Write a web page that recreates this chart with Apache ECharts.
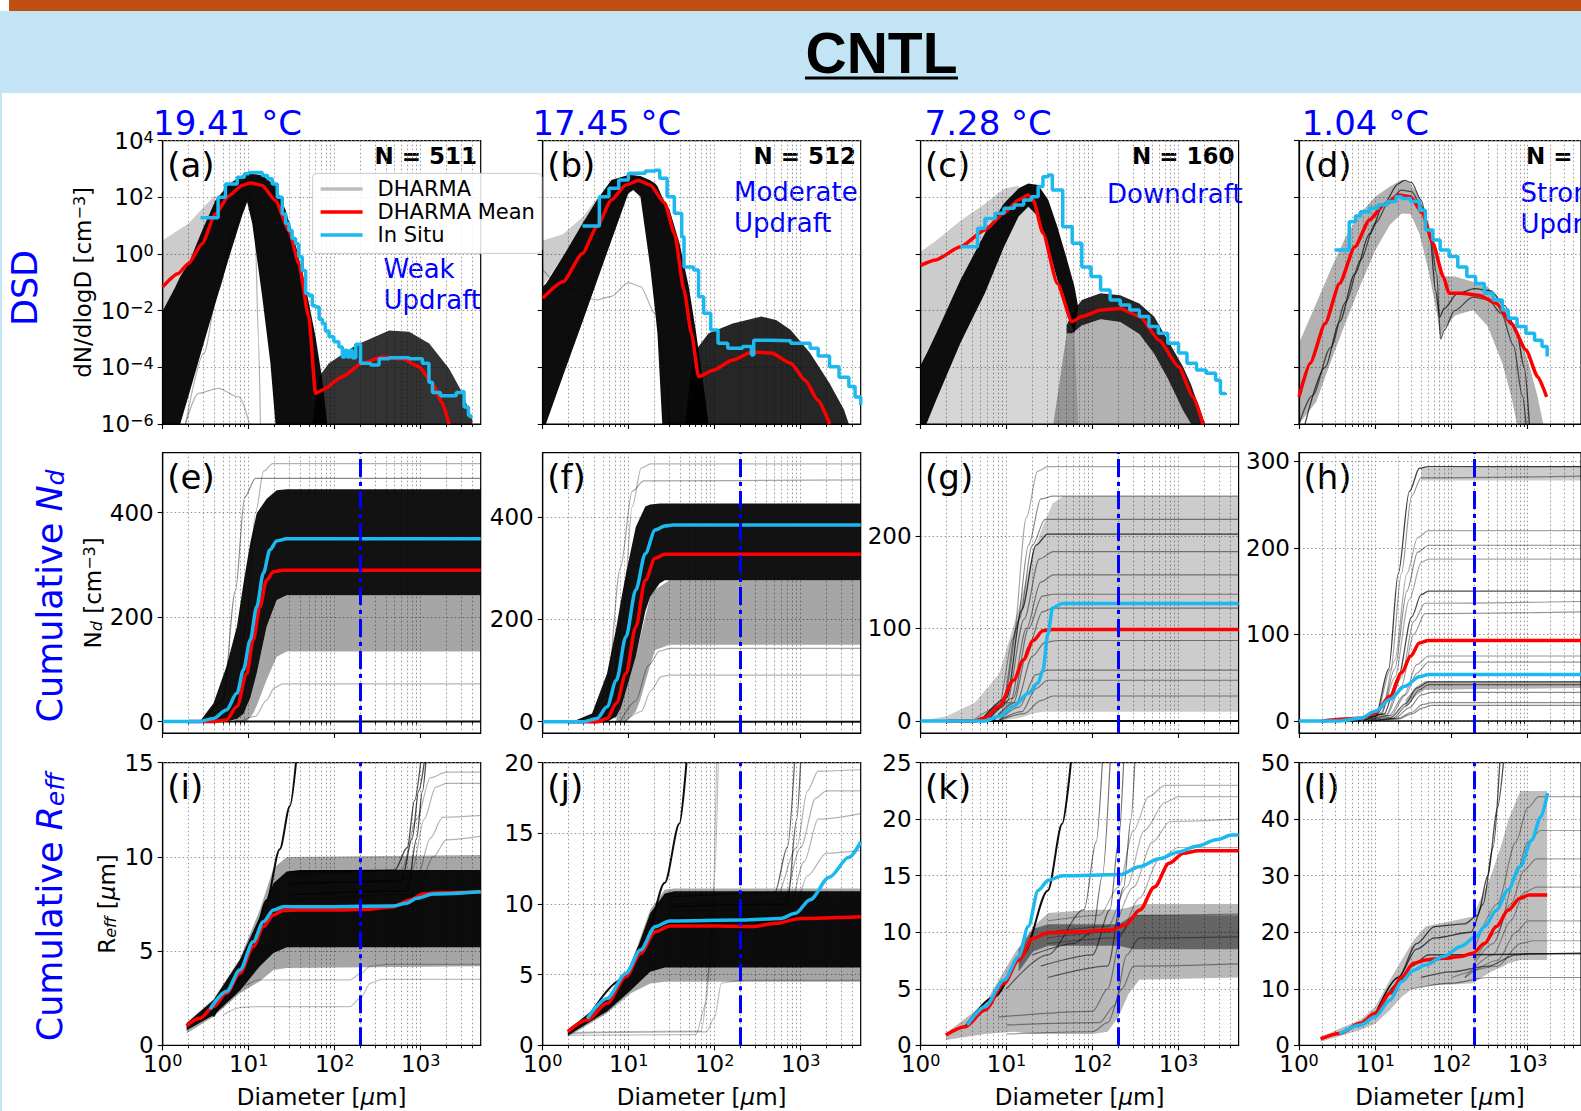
<!DOCTYPE html>
<html>
<head>
<meta charset="utf-8">
<script src="https://cdn.jsdelivr.net/npm/echarts@6/dist/echarts.min.js"></script>
<style>
html, body { margin: 0; padding: 0; background: #fff; }
#wrap { position: relative; width: 1581px; height: 1111px; overflow: hidden; background: #fff; }
#topbar { position: absolute; left: 9px; top: 0; width: 1572px; height: 11px; background: #c14f14; }
#band { position: absolute; left: 0; top: 11px; width: 1581px; height: 82px; background: #c2e4f4; }
#edge { position: absolute; left: 0; top: 93px; width: 2px; height: 1018px; background: #c2e4f4; }
#chart { position: absolute; left: 0; top: 0; width: 1581px; height: 1111px; }
</style>
</head>
<body>
<div id="wrap"><div id="topbar"></div><div id="band"></div><div id="edge"></div><div id="chart"></div></div>
<script>
// ---------------- DSD (dN/dlogD, cm^-3) ----------------
const dsdA_mean = [[1,0.069],[1.5,0.2],[2,0.46],[2.87,2.3],[4.1,26],[5.9,115],[8.4,263],[10.5,324],[14.4,263],[20.5,78],[29.4,6.8],[38.3,0.46],[50,6e-3],[60,1.2e-5],[72,1.6e-5],[123,4.7e-5],[210,1.4e-4],[359,2.3e-4],[616,2e-4],[960,1.05e-4],[1370,2.7e-5],[1790,5.4e-6],[2140,1e-6]];
const dsdA_situ = [[2.75,19],[4.41,100],[5.37,295],[7.35,510],[8.9,680],[10,760],[14.4,590],[16.6,450],[18.8,295],[21.5,100],[24.6,26],[27,12],[29.4,6.8],[32,3.5],[35.1,2.3],[38.3,0.8],[42,0.26],[46,0.04],[50,0.035],[55,0.015],[60,0.0135],[66,5e-3],[72,3.5e-3],[78,1.9e-3],[86,1.2e-3],[98,8e-4],[112,5.2e-4],[123,2.3e-4],[132,4e-4],[140,2.3e-4],[150,4e-4],[160,2.2e-4],[176,6.5e-4],[200,1.4e-4],[263,1.2e-4],[329,2e-4],[430,2.2e-4],[735,2e-4],[1050,1.4e-4],[1250,3e-5],[1374,1.3e-5],[1700,1e-5],[2600,1.3e-5],[3070,1.4e-5],[3200,4e-6],[3600,2e-6],[3840,1.6e-6]];
const dsdA_core = [[1,1e-6,1e-2],[1.4,1e-6,0.069],[1.6,1e-6,0.16],[2,1e-5,0.46],[2.87,4.4e-4,6.8],[4.1,0.018,78],[5.9,0.74,295],[8.4,23,590],[9.6,68,650],[11,12,676],[14.4,0.03,600],[17.9,1.4e-4,355],[20.5,1e-6,263],[26.9,1e-6,35],[35,1e-6,2.3],[46,1e-6,0.069],[60,1e-6,1.2e-3],[72,1e-6,3.5e-5],[82,1e-6,1e-6]];
const dsdA_upper = [[1,1e-2,3],[1.4,0.069,6],[2,0.46,12],[2.87,6.8,40],[4.1,78,120]];
const dsdA_mode2 = [[55,1e-6,1e-6],[65.6,1e-6,4.7e-5],[86,1e-6,1.4e-4],[176,1e-6,6e-4],[430,1e-6,2e-3],[735,1e-6,1.8e-3],[1260,1e-6,6.9e-4],[2150,1e-6,9e-5],[3090,1e-6,1.2e-5],[4000,1e-6,1.4e-6]];
const dsdA_g1 = [[1.84,1e-6],[2.6,1.2e-5],[4.4,1.8e-5],[7.7,9e-6],[10.2,1e-6]];
const dsdA_g2 = [[1.85,1e-6],[3,3e-4],[4.4,0.05],[6.5,5],[9.2,80],[10.5,120],[11.9,5],[13,1e-3],[13.7,1e-6]];

const dsdB_mean = [[1,0.0275],[1.72,0.105],[2.9,1.05],[4.27,9.1],[6.3,81],[9.3,275],[12.9,390],[17.8,275],[26.3,62],[34,5.4],[44,0.054],[53.7,1.6e-3],[65,4.7e-5],[96,7.9e-5],[162,1.8e-4],[271,3.5e-4],[456,3.2e-4],[767,1.4e-4],[1130,3.5e-5],[1580,7e-6],[2180,1e-6]];
const dsdB_situ = [[2.9,9.8],[4.56,105],[5.9,209],[7.67,407],[9.9,708],[15.6,851],[20.3,912],[23,468],[28,105],[34,27.5],[41.4,4.1],[44,0.35],[57,0.275],[65,0.031],[74.6,8.1e-3],[90,2.1e-3],[109.5,7.1e-4],[142,4.7e-4],[211,5.4e-4],[268,2.75e-4],[285,9.1e-4],[349,9.1e-4],[456,8.7e-4],[767,7.1e-4],[1290,4.7e-4],[1600,2.5e-4],[2170,1.05e-4],[2800,4.5e-5],[3640,2.1e-5],[4300,9e-6],[5000,4.7e-6]];
const dsdB_core = [[1,1e-6,0.071],[1.09,1e-6,0.09],[1.72,4.9e-5,0.81],[2.9,4e-3,12],[4.27,0.11,81],[6.3,3,407],[9.9,138,617],[11.3,182,600],[13.7,105,562],[17.8,0.35,400],[20.3,0.01,309],[21.6,1.6e-3,250],[24.6,1e-6,100],[30,1e-6,35],[39,1e-6,2.4],[50,1e-6,0.071],[61,1e-6,1.6e-3],[74.6,1e-6,2.1e-5],[85,1e-6,1e-6]];
const dsdB_upper = [[1,0.071,3],[1.72,0.81,5],[2.9,12,20],[4.27,81,90]];
const dsdB_mode2 = [[45,1e-6,1e-6],[57,1e-6,3.2e-4],[85,1e-6,1.6e-3],[162,1e-6,3.5e-3],[349,1e-6,6.2e-3],[520,1e-6,4.7e-3],[767,1e-6,2.1e-3],[1290,1e-6,3.2e-4],[2170,1e-6,2.75e-5],[3200,1e-6,3.2e-6],[3640,1e-6,1e-6]];
const dsdB_g1 = [[1,0.28],[1.72,0.071],[4.27,0.024],[6.3,0.032],[9.9,0.098],[13.7,0.071],[20.3,8e-3],[26.3,1e-4],[30,1e-6]];

const dsdC_mean = [[1,0.4],[1.5,0.62],[2.9,1.8],[5.6,7.1],[9.3,27.5],[13.8,81],[17.9,120],[20.4,81],[26.5,5.4],[39,0.091],[57.6,4.1e-3],[75,6.2e-3],[125,0.0105],[210,0.012],[355,6.2e-3],[596,9.1e-4],[1000,1.05e-4],[1480,9.1e-6],[1920,1e-6]];
const dsdC_situ = [[2.9,1.8],[4.6,8.1],[5.6,18],[7.4,27.5],[9.35,41],[12.3,54],[15.8,81],[19.5,105],[23.3,240],[26.5,537],[30.6,617],[34.1,182],[45,9.1],[58,2.4],[75,0.35],[96,0.16],[124,0.054],[160,0.024],[210,0.016],[271,0.0105],[350,6.2e-3],[453,2.75e-3],[583,1.6e-3],[750,7.1e-4],[1000,3.2e-4],[1255,1.4e-4],[1620,8.1e-5],[2100,6.2e-5],[2700,3.5e-5],[3070,1.2e-5],[3500,1.05e-5]];
const dsdC_core = [[1,1e-6,1.2e-4],[1.17,1e-6,3e-4],[1.52,7e-6,1.6e-3],[2.9,7.1e-4,0.12],[5.6,0.041,5.4],[9.35,1.8,62],[13.8,21,209],[17.9,47,309],[23.3,21,275],[30.6,1.8,81],[39,0.12,9.1],[50.6,8.1e-3,0.62],[61.6,1.6e-3,0.071],[68,0.014,0.014]];
const dsdC_upper = [[1,1.2e-4,1.2],[1.52,1.6e-3,3],[2.9,0.12,15],[5.6,5.4,60],[9.35,62,200],[13.8,209,260]];
const dsdC_inner = [[1.17,1e-6,1e-6],[1.52,1e-6,7e-6],[2.9,1e-6,7.1e-4],[5.6,1e-6,0.041],[9.35,1e-6,1.8],[13.8,1e-6,21],[17.9,1e-6,47],[23.3,1e-6,21],[30.6,1e-6,1.8],[39,1e-6,0.12],[50.6,1e-6,8.1e-3],[61.6,1e-6,1.6e-3],[68,1e-6,1e-6]];
const dsdC_mode2dark = [[50,1.6e-3,3e-3],[57.6,1.6e-3,8.1e-3],[75,3e-3,0.024],[124,5e-3,0.041],[210,4e-3,0.035],[350,1.5e-3,0.018],[520,3e-4,6.2e-3],[750,4e-5,9.1e-4],[1130,3e-6,1.05e-4],[1400,1e-6,2.5e-5],[1620,1e-6,7e-6],[2040,1e-6,1e-6]];
const dsdC_mode2light = [[35,1e-6,1e-6],[50,1e-6,1.6e-3],[75,1e-6,3e-3],[124,1e-6,5e-3],[210,1e-6,4e-3],[350,1e-6,1.5e-3],[520,1e-6,3e-4],[750,1e-6,4e-5],[1130,1e-6,3e-6],[1400,1e-6,1e-6]];

const dsdD_mean = [[1,9.1e-6],[1.4,1.4e-4],[2.2,3.5e-3],[3.4,0.091],[5.4,1.8],[8.4,16],[13,54],[20.4,120],[29,105],[41.7,27.5],[57,2.4],[78,0.16],[93,0.041],[133,0.041],[228,0.035],[390,0.018],[610,3.5e-3],[950,4.1e-4],[1350,4.7e-5],[1770,9.1e-6]];
const dsdD_situ = [[2.92,1.4],[4.56,13.8],[5.5,22],[6.4,31],[8.4,41],[10.9,54],[14.3,71],[18.7,105],[22.3,91],[29,71],[38,35],[45.5,7.1],[57,3.1],[71,1.4],[93,0.81],[121,0.35],[159,0.16],[207,0.091],[270,0.041],[352,0.024],[465,0.0105],[556,5.4e-3],[724,2.75e-3],[946,1.6e-3],[1230,9.1e-4],[1540,5.4e-4],[1800,2.4e-4]];
const dsdD_band = [[1,1e-6,7.1e-4],[1.68,6e-6,0.018],[2.6,1.5e-4,0.28],[4.1,3.9e-3,4.1],[6.4,0.08,27.5],[10,1.35,105],[15.6,10.7,240],[22.3,27,407],[29,25.7,309],[38,5.2,105],[50,0.26,12],[65,6.8e-3,0.81],[71,1.2e-3,0.35],[78,2.1e-3,0.16],[111,6.8e-3,0.16],[191,0.0105,0.105],[297,2.9e-3,0.071],[465,1.4e-4,0.018],[610,9.1e-6,4.9e-3],[724,1e-6,2.1e-3],[1030,1e-6,1.4e-4],[1350,1e-6,9.1e-6],[1600,1e-6,1e-6]];
const dsdD_g1 = [[1.2,1e-6],[2.2,1e-4],[3.4,4e-3],[5.4,0.2],[8.4,5],[13,60],[20,300],[24,400],[30,330],[40,80],[52,4],[62,0.05],[70,6e-3],[80,0.012],[120,0.04],[200,0.06],[330,0.05],[500,0.015],[720,1.5e-3],[900,1e-4],[1050,1e-6]];
const dsdD_g2 = [[1,1e-6],[1.5,1e-5],[2.6,5e-4],[4.1,0.02],[6.4,0.6],[10,12],[15.6,80],[22,180],[30,160],[40,50],[52,5],[64,0.2],[72,1e-3],[80,2e-3],[110,0.01],[190,0.03],[300,0.025],[450,8e-3],[650,6e-4],[850,1e-5],[950,1e-6]];

// ---------------- Cumulative Nd (cm^-3) ----------------
const cumE_mean = [[2,0],[3.9,0],[5.5,3],[7.3,29],[9.5,92],[11.3,156],[13.5,220],[16.2,271],[19.4,287],[25,290],[5000,290]];
const cumE_situ = [[1,0],[2.7,0],[3.9,6],[5.5,22],[7.3,54],[8.7,99],[10.4,156],[12.4,220],[14.8,284],[17.7,329],[21.2,346],[27.7,350],[5000,350]];
const cumE_core = [[2.7,0,0],[3.9,0,35],[5.5,0,105],[7.3,5,182],[8.7,15,265],[10.4,45,341],[12.4,92,399],[16.2,182,427],[21.2,233,443],[27.7,242,445],[5000,242,445]];
const cumE_light = [[6.6,0,0],[7.9,0,10],[9.5,0,29],[11.3,16,70],[12.4,30,92],[16.2,80,182],[21.2,124,233],[27.7,134,242],[5000,134,242]];
const cumE_g1 = [[4,0],[7,30],[9.5,200],[12,400],[15,480],[19,494],[5000,494]];
const cumE_g2 = [[3,0],[5,40],[7,250],[9,430],[12,466],[5000,466]];
const cumE_g3 = [[8,0],[12,10],[16,40],[20,65],[25,72],[5000,72]];
const cumE_zero = [[1,0],[5000,0]];

const cumF_mean = [[2,0],[4.3,0],[5.6,6.5],[7.2,36],[9.3,94],[12.1,185],[15.6,276],[20.3,319],[26.3,327],[5000,327]];
const cumF_situ = [[1,0],[2.9,0],[4.3,6.5],[5.6,29],[7.2,81],[9.3,166],[12.1,257],[15.6,328],[20.3,374],[26.3,382],[33,384],[5000,384]];
const cumF_core = [[2.2,0,0],[3.75,0,16],[5.6,0,94],[7.2,10,185],[8.2,29,240],[9.3,60,289],[12.1,127,380],[15.6,215,420],[17.8,244,424],[23,270,426],[26.3,276,426],[5000,276,426]];
const cumF_light = [[7.2,0,10],[8.2,0,29],[9.3,0,60],[12.1,20,127],[13.6,42,165],[17.8,110,244],[20.3,140,258],[30,150,276],[5000,150,276]];
const cumF_g1 = [[4,0],[6,30],[8.5,200],[11,420],[14,495],[18,503],[5000,503]];
const cumF_g2 = [[3.5,0],[5.5,50],[8,300],[11,450],[15,470],[5000,472]];
const cumF_g3 = [[9,0],[14,20],[18,60],[24,88],[30,91],[5000,91]];
const cumF_g4 = [[8,0],[12,40],[17,110],[23,138],[30,143],[5000,143]];
const cumF_zero = [[1,0],[5000,0]];

const cumG_mean = [[2,0],[4.3,0],[5.6,3.5],[8.2,16],[12.1,44],[15.7,66],[20.4,87],[26.5,97.5],[34.3,99],[5000,99]];
const cumG_situ = [[1,0],[5.6,0],[8.2,5],[12.1,16],[17.9,30],[23.2,41],[26.5,55],[30.2,94],[34.3,122],[44.6,127],[5000,127]];
const cumG_band = [[1,0,0],[2,0,5],[4.3,0,20],[8.2,0,51],[13.8,3,122],[20.4,8,183],[26.5,10,211],[34.3,10,235],[45,10,243],[5000,10,243]];
const cumG_l1 = [[4,0],[8,15],[12,90],[17,220],[23,270],[30,275],[5000,275]];
const cumG_l2 = [[5,0],[9,20],[13,100],[18,190],[25,240],[35,243],[5000,243]];
const cumG_l3 = [[5,0],[9,15],[14,110],[20,190],[28,218],[5000,218]];
const cumG_l4 = [[5,0],[10,25],[15,120],[22,190],[30,202],[5000,202]];
const cumG_l5 = [[6,0],[10,20],[16,110],[24,175],[35,183],[5000,183]];
const cumG_l6 = [[6,0],[11,20],[17,100],[25,150],[35,158],[5000,158]];
const cumG_l7 = [[6,0],[12,25],[18,100],[26,135],[35,137],[5000,137]];
const cumG_l8 = [[7,0],[12,20],[18,80],[26,118],[35,122],[5000,122]];
const cumG_l9 = [[7,0],[13,20],[20,70],[28,85],[40,87],[5000,87]];
const cumG_l10 = [[8,0],[14,15],[22,50],[30,55],[5000,55]];
const cumG_l11 = [[8,0],[15,10],[22,35],[30,44],[5000,44]];
const cumG_l12 = [[8,0],[16,8],[25,22],[35,27],[5000,27]];
const cumG_zero = [[1,0],[5000,0]];

const cumH_mean = [[2,0],[6.4,3],[10,9],[15.6,28.5],[22.3,56],[29.2,75],[38,90],[50,93],[5000,93]];
const cumH_situ = [[1,0],[3.4,0],[6.4,3],[10,11],[15.6,25],[24.4,40],[38,51],[50,53.5],[5000,53.5]];
const cumH_l1 = [[5,0],[10,5],[15,60],[20,170],[28,265],[38,292],[50,294],[5000,294]];
const cumH_l2 = [[5,0],[10,3],[16,60],[22,170],[30,260],[40,281],[5000,283]];
const cumH_l3 = [[6,0],[12,10],[18,70],[26,170],[36,212],[50,220],[5000,220]];
const cumH_l4 = [[6,0],[12,8],[18,60],[26,150],[36,195],[50,203],[5000,203]];
const cumH_l5 = [[6,0],[12,8],[18,50],[28,140],[40,183],[50,187],[5000,187]];
const cumH_l6 = [[7,0],[13,8],[20,50],[30,120],[40,146],[50,150],[5000,150]];
const cumH_l7 = [[7,0],[14,8],[22,50],[32,115],[45,136],[5000,138]];
const cumH_l8 = [[7,0],[14,6],[22,40],[32,100],[45,124],[5000,126]];
const cumH_l9 = [[8,0],[15,6],[24,30],[35,65],[50,75],[5000,75]];
const cumH_l10 = [[8,0],[16,6],[25,30],[35,55],[50,68],[5000,68]];
const cumH_l11 = [[8,0],[16,4],[25,20],[35,38],[50,45],[5000,45]];
const cumH_l12 = [[9,0],[17,3],[26,18],[38,36],[50,42],[5000,42]];
const cumH_l13 = [[9,0],[18,3],[28,15],[40,30],[55,33],[5000,33]];
const cumH_l14 = [[10,0],[20,3],[30,10],[42,19],[55,21],[5000,21]];
const cumH_l15 = [[10,0],[20,2],[30,8],[42,15],[55,18],[5000,18]];
const cumH_top = [[40,278,292],[5000,278,295]];
const cumH_low = [[25,15,25],[35,30,40],[45,36,46],[5000,38,46]];
const cumH_zero = [[1,0],[5000,0]];

// ---------------- Cumulative Reff (um) ----------------
const cumI_mean = [[1.9,1.03],[2.7,1.43],[3.9,2.05],[5.5,2.76],[7.9,3.82],[11.3,5.24],[14.8,6.3],[19.4,6.92],[25.3,7.15],[39.5,7.18],[96,7.18],[235,7.22],[480,7.36],[752,7.71],[1070,8.03],[1680,8.1],[5000,8.15]];
const cumI_situ = [[3.55,1.91],[5.5,2.85],[7.9,4.0],[11.3,5.5],[14.8,6.56],[19.4,7.18],[25.3,7.36],[96,7.36],[480,7.39],[690,7.54],[900,7.8],[1400,8.03],[5000,8.15]];
const cumI_core = [[1.9,0.8,1.17],[3.9,1.6,2.4],[7.9,2.9,4.53],[13.5,4.2,6.83],[19.4,4.9,8.6],[27.7,5.2,9.22],[39.5,5.2,9.3],[5000,5.2,9.3]];
const cumI_light = [[1.9,0.64,1.2],[3.9,1.52,2.45],[7.9,2.76,4.6],[13.5,3.4,7.2],[19.4,4.0,9.4],[27.7,4.1,10.0],[5000,4.2,10.1]];
const cumI_steep = [[3.9,1.52],[6.6,3.1],[11.3,5.6],[16.2,7.7],[23,10.4],[30.2,12.7],[35.5,15]];
const cumI_g1 = [[5,1.6],[8,2.0],[12,2.05],[150,2.05],[200,2.5],[260,3.3],[350,3.5],[5000,3.5]];
const cumI_g2 = [[6,2.4],[9,3.2],[13,3.47],[150,3.47],[200,3.8],[260,4.2],[400,4.3],[5000,4.3]];
const cumI_r1 = [[30,9.2],[500,9.3],[700,10.5],[850,13],[1000,15]];
const cumI_r2 = [[30,8.6],[600,8.7],[800,11],[950,13.5],[1100,15]];
const cumI_r3 = [[30,8.0],[700,8.2],[900,11],[1050,13.5],[1150,15]];
const cumI_r4 = [[30,9.0],[800,9.3],[1100,12],[1500,13.7],[2000,13.9],[5000,13.9]];
const cumI_r5 = [[30,8.5],[900,8.8],[1300,11],[1800,12.1],[5000,12.2]];
const cumI_r6 = [[30,7.7],[900,8],[1400,10],[2000,10.9],[5000,11.1]];
const cumI_r7 = [[30,9.1],[600,9.3],[900,12],[1300,14.2],[2000,14.5],[5000,14.5]];

const cumJ_mean = [[1.96,0.97],[3.3,1.79],[5.6,2.97],[9.3,4.86],[13.7,6.5],[20.3,8.04],[30,8.44],[110,8.44],[271,8.4],[519,8.63],[1000,8.98],[5000,9.1]];
const cumJ_situ = [[3.3,1.9],[5.6,3.32],[9.3,5.09],[13.7,6.74],[20.3,8.39],[30,8.8],[210,8.87],[590,8.98],[870,9.34],[1290,10.3],[2160,11.9],[3640,13.3],[5000,14.4]];
const cumJ_core = [[1.96,0.7,1.08],[5.6,2.4,3.3],[10.6,3.9,5.56],[17.8,5.2,9.34],[26.3,5.5,10.75],[34,5.5,10.9],[5000,5.5,10.9]];
const cumJ_light = [[1.96,0.61,1.1],[5.6,2.26,3.35],[10.6,3.68,5.7],[17.8,4.38,9.6],[26.3,4.5,11],[34,4.5,11.1],[5000,4.5,11.1]];
const cumJ_steep = [[3.3,1.9],[8.2,4.62],[15.6,7.45],[26.3,11.5],[39,15.7],[47,20]];
const cumJ_g1 = [[2,0.8],[5,0.9],[80,0.95],[100,2],[120,4.4],[200,4.6],[5000,4.6]];
const cumJ_g2 = [[2,0.7],[60,0.75],[80,3],[95,10],[105,20]];
const cumJ_g3 = [[2,0.9],[70,1.0],[90,6],[100,12],[110,20]];
const cumJ_r1 = [[30,10],[500,10.2],[900,14],[1200,18],[1600,19.4],[5000,19.5]];
const cumJ_r2 = [[30,9.5],[600,9.6],[1000,14],[1500,17.5],[2000,18],[5000,18]];
const cumJ_r3 = [[30,9],[700,9.2],[1100,13],[1600,16],[5000,16.4]];
const cumJ_r4 = [[30,8.8],[800,9],[1200,12],[2000,13.6],[5000,13.8]];
const cumJ_r5 = [[30,10.5],[500,10.8],[700,14],[850,20]];
const cumJ_r6 = [[30,9.8],[700,10],[900,16],[1000,20]];

const cumK_mean = [[1.97,0.91],[3.3,1.65],[5.6,3.12],[9.35,5.48],[13.8,7.55],[20.4,9.46],[30.6,9.96],[75,10.05],[163,10.2],[240,10.64],[355,11.97],[525,14.0],[775,16.1],[1140,17.0],[1700,17.2],[5000,17.2]];
const cumK_situ = [[3.5,1.8],[5.6,3.42],[9.35,5.78],[13.8,7.84],[17.9,10.5],[23.3,13.7],[30.6,14.6],[44.6,15.0],[210,15.1],[350,15.8],[596,16.5],[1000,17.1],[1620,17.6],[2820,18.2],[4150,18.6],[5000,18.6]];
const cumK_band = [[1.97,0.47,1.06],[5.6,1.0,3.7],[12.3,1.2,8.1],[20.4,1.0,10.5],[30.6,1.0,11.7],[100,1.0,12.0],[150,1.2,12.0],[200,2.5,12.0],[260,4.5,12.2],[350,5.8,12.5],[5000,6.0,12.5]];
const cumK_core = [[13.8,6.5,8.5],[20.4,8.3,10.3],[30.6,8.8,10.7],[200,8.8,10.7],[300,8.5,11.5],[5000,8.5,11.5]];
const cumK_steep = [[3.3,1.65],[7.2,4.3],[15.7,8.1],[30.2,13.7],[44.4,19.6],[56,25]];
const cumK_r1 = [[30,11],[120,11.5],[200,14],[300,19],[450,22],[700,23],[5000,23]];
const cumK_r2 = [[30,10],[150,10.5],[250,14],[400,19],[700,21.5],[1000,22],[5000,22]];
const cumK_r3 = [[30,9.5],[160,10],[300,14],[500,18],[800,19.8],[5000,20]];
const cumK_r4 = [[30,9],[200,9.5],[350,13],[600,16.5],[1000,17.5],[5000,17.5]];
const cumK_t1 = [[20,8],[60,9],[100,10],[130,15],[160,25]];
const cumK_t2 = [[25,7],[100,8],[160,12],[200,18],[230,25]];
const cumK_t3 = [[30,6],[150,7],[230,14],[280,20],[310,25]];
const cumK_t4 = [[10,5],[30,8],[80,12],[110,18],[130,25]];
const cumK_l1 = [[10,1],[100,1.2],[150,2],[220,5],[300,7],[5000,7.2]];
const cumK_l2 = [[10,1.8],[120,2],[180,3.5],[250,8],[350,9.5],[5000,9.6]];
const cumK_l3 = [[8,2.5],[100,3],[150,5],[220,10],[300,11.5],[5000,11.6]];

const cumL_mean = [[1.92,1.12],[3.4,2.1],[6.4,3.9],[10,5.66],[15.6,9.2],[22.3,12.1],[31.9,14.5],[45.5,15.1],[78,15.4],[133,15.7],[190,16.3],[272,18.0],[388,21.0],[554,23.9],[790,26.0],[1040,26.6],[1800,26.6]];
const cumL_situ = [[3.4,2.0],[6.4,3.6],[10,5.07],[15.6,8.0],[22.3,11.3],[31.9,13.3],[45.5,14.2],[78,15.7],[133,17.5],[208,19.2],[272,21.0],[388,23.9],[554,27.5],[790,31.6],[1130,36.3],[1480,40.4],[1820,44.6]];
const cumL_band = [[1.92,0.65,1.5],[6.4,2.7,4.5],[10,3.8,6.8],[15.6,6.25,11.6],[22.3,8.6,15.1],[31.9,10.2,18.6],[45.5,10.6,21.0],[93,10.7,21.9],[190,11.0,22.8],[330,13,30],[465,13.9,36],[560,14.5,40],[800,15.1,45],[1800,15.1,45]];
const cumL_d1 = [[10,5],[20,11],[30,14],[50,16],[5000,16.3]];
const cumL_d2 = [[10,5.5],[20,12],[35,18],[60,21],[150,21.5],[220,23],[300,30],[400,42],[480,50]];
const cumL_d3 = [[10,5.5],[20,12],[35,17],[60,19],[180,20],[260,25],[350,35],[430,50]];
const cumL_g1 = [[200,17],[400,25],[700,36],[1000,42],[1400,44],[5000,44]];
const cumL_g2 = [[200,15],[400,20],[700,30],[1000,36],[1500,38],[5000,38]];
const cumL_g3 = [[190,14],[350,18],[600,25],[900,31],[1300,33],[5000,33]];
const cumL_g4 = [[150,12],[350,16],[600,22],[900,27],[1300,28],[5000,28]];
const cumL_g5 = [[150,12],[400,15],[700,20],[1000,22],[5000,22]];
const cumL_g6 = [[100,12],[400,14],[800,18],[1200,18.5],[5000,18.5]];
const cumL_g7 = [[40,12],[100,13],[300,14],[700,16],[1000,16.2],[5000,16.2]];
const cumL_g8 = [[30,10],[100,11],[300,12],[5000,12]];

// ---------------- labels ----------------
const temperatures = ['19.41 \u00b0C', '17.45 \u00b0C', '7.28 \u00b0C', '1.04 \u00b0C'];
const sampleCounts = ['N = 511', 'N = 512', 'N = 160', 'N ='];
const regimes = ['Weak\nUpdraft', 'Moderate\nUpdraft', 'Downdraft', 'Strong\nUpdraft'];
const panelLetters = ['(a)','(b)','(c)','(d)','(e)','(f)','(g)','(h)','(i)','(j)','(k)','(l)'];
const xMajorTicks = [1, 10, 100, 1000];
const xMinorTicks = [2,3,4,5,6,7,8,9,20,30,40,50,60,70,80,90,200,300,400,500,600,700,800,900,2000,3000,4000];
const dsdTicks = [1e-6, 1e-4, 1e-2, 1, 1e2, 1e4];
const yTicks = [dsdTicks, dsdTicks, dsdTicks, dsdTicks,
  [0,200,400], [0,200,400], [0,100,200], [0,100,200,300],
  [0,5,10,15], [0,5,10,15,20], [0,5,10,15,20,25], [0,10,20,30,40,50]];
const yRanges = [[1e-6,1e4],[1e-6,1e4],[1e-6,1e4],[1e-6,1e4],
  [-22,515],[-22,525],[-13,290],[-14,310],
  [0,15],[0,20],[0,25],[0,50]];
const markerDiameter = 200;

// ---------------- layout & styles ----------------
const FONT = 'DejaVu Sans';
const BLUE = '#0000ff', RED = '#ff0000', CYAN = '#1bb9f0';
const COL_LEFT = [162.7, 542.7, 920.6, 1299];
const ROW_TOP = [140.7, 452.7, 762.7];
const ROW_H = [283.3, 280.3, 282.6];
const PANEL_W = 318;
const GRIDLINE = { color: '#8c8c8c', width: 0.9, type: [1.5, 2.5] };

const k = a => 'rgba(0,0,0,' + a + ')';

const panelDefs = [
  { bands: [[dsdA_upper, 0.2], [dsdA_mode2, 0.8], [dsdA_core, 0.95]],
    lines: [[dsdA_g1, 0.3, 1.2], [dsdA_g2, 0.3, 1.2]], mean: dsdA_mean, situ: dsdA_situ },
  { bands: [[dsdB_upper, 0.2], [dsdB_mode2, 0.85], [dsdB_core, 0.95]],
    lines: [[dsdB_g1, 0.3, 1.2]], mean: dsdB_mean, situ: dsdB_situ },
  { bands: [[dsdC_upper, 0.2], [dsdC_inner, 0.16], [dsdC_mode2light, 0.3], [dsdC_mode2dark, 0.85], [dsdC_core, 0.95]],
    lines: [], mean: dsdC_mean, situ: dsdC_situ },
  { bands: [[dsdD_band, 0.3]],
    lines: [[dsdD_g1, 0.7, 1.3], [dsdD_g2, 0.6, 1.3]], mean: dsdD_mean, situ: dsdD_situ },
  { bands: [[cumE_light, 0.35], [cumE_core, 0.93]],
    lines: [[cumE_zero, 0.95, 2], [cumE_g1, 0.3, 1.2], [cumE_g2, 0.45, 1.2], [cumE_g3, 0.3, 1.2]], mean: cumE_mean, situ: cumE_situ },
  { bands: [[cumF_light, 0.35], [cumF_core, 0.93]],
    lines: [[cumF_zero, 0.95, 2], [cumF_g1, 0.3, 1.2], [cumF_g2, 0.35, 1.2], [cumF_g3, 0.3, 1.2], [cumF_g4, 0.35, 1.2]], mean: cumF_mean, situ: cumF_situ },
  { bands: [[cumG_band, 0.2]],
    lines: [[cumG_zero, 0.95, 2], [cumG_l1, 0.35, 1.2], [cumG_l2, 0.45, 1.2], [cumG_l3, 0.45, 1.2], [cumG_l4, 0.75, 1.3],
            [cumG_l5, 0.45, 1.2], [cumG_l6, 0.45, 1.2], [cumG_l7, 0.45, 1.2], [cumG_l8, 0.45, 1.2], [cumG_l9, 0.45, 1.2],
            [cumG_l10, 0.45, 1.2], [cumG_l11, 0.45, 1.2], [cumG_l12, 0.45, 1.2]], mean: cumG_mean, situ: cumG_situ },
  { bands: [[cumH_top, 0.2], [cumH_low, 0.3]],
    lines: [[cumH_zero, 0.7, 2], [cumH_l1, 0.75, 1.3], [cumH_l2, 0.4, 1.2], [cumH_l3, 0.35, 1.2], [cumH_l4, 0.45, 1.2],
            [cumH_l5, 0.35, 1.2], [cumH_l6, 0.7, 1.3], [cumH_l7, 0.4, 1.2], [cumH_l8, 0.4, 1.2], [cumH_l9, 0.4, 1.2],
            [cumH_l10, 0.4, 1.2], [cumH_l11, 0.6, 1.3], [cumH_l12, 0.5, 1.2], [cumH_l13, 0.45, 1.2], [cumH_l14, 0.45, 1.2],
            [cumH_l15, 0.45, 1.2]], mean: cumH_mean, situ: cumH_situ },
  { bands: [[cumI_light, 0.35], [cumI_core, 0.93]],
    lines: [[cumI_steep, 0.95, 2], [cumI_g1, 0.25, 1.2], [cumI_g2, 0.25, 1.2], [cumI_r1, 0.7, 1.3], [cumI_r2, 0.7, 1.3],
            [cumI_r3, 0.7, 1.3], [cumI_r4, 0.3, 1.2], [cumI_r5, 0.3, 1.2], [cumI_r6, 0.3, 1.2], [cumI_r7, 0.3, 1.2]],
    mean: cumI_mean, situ: cumI_situ },
  { bands: [[cumJ_light, 0.35], [cumJ_core, 0.93]],
    lines: [[cumJ_steep, 0.95, 2], [cumJ_g1, 0.25, 1.2], [cumJ_g2, 0.25, 1.2], [cumJ_g3, 0.25, 1.2], [cumJ_r1, 0.3, 1.2],
            [cumJ_r2, 0.3, 1.2], [cumJ_r3, 0.3, 1.2], [cumJ_r4, 0.3, 1.2], [cumJ_r5, 0.6, 1.3], [cumJ_r6, 0.6, 1.3]],
    mean: cumJ_mean, situ: cumJ_situ },
  { bands: [[cumK_band, 0.28], [cumK_core, 0.45]],
    lines: [[cumK_steep, 0.95, 2], [cumK_r1, 0.3, 1.2], [cumK_r2, 0.3, 1.2], [cumK_r3, 0.3, 1.2], [cumK_r4, 0.3, 1.2],
            [cumK_t1, 0.55, 1.2], [cumK_t2, 0.55, 1.2], [cumK_t3, 0.55, 1.2], [cumK_t4, 0.55, 1.2],
            [cumK_l1, 0.4, 1.2], [cumK_l2, 0.4, 1.2], [cumK_l3, 0.4, 1.2]],
    mean: cumK_mean, situ: cumK_situ },
  { bands: [[cumL_band, 0.25]],
    lines: [[cumL_d1, 0.75, 1.3], [cumL_d2, 0.7, 1.3], [cumL_d3, 0.7, 1.3], [cumL_g1, 0.35, 1.2], [cumL_g2, 0.35, 1.2],
            [cumL_g3, 0.35, 1.2], [cumL_g4, 0.35, 1.2], [cumL_g5, 0.35, 1.2], [cumL_g6, 0.35, 1.2], [cumL_g7, 0.6, 1.3],
            [cumL_g8, 0.45, 1.2]],
    mean: cumL_mean, situ: cumL_situ }
];

// ---------------- helpers ----------------
const supRich = {
  b: { fontFamily: FONT, fontSize: 23, color: '#000', verticalAlign: 'bottom' },
  s: { fontFamily: FONT, fontSize: 16, color: '#000', verticalAlign: 'top' }
};
function powLabel(v) {
  const e = Math.round(Math.log10(v));
  return '{b|10}{s|' + (e < 0 ? '\u2212' + (-e) : String(e)) + '}';
}

function bandSeries(g, rows, fill) {
  return {
    type: 'custom', name: 'DHARMA envelope', xAxisIndex: 2 * g, yAxisIndex: g,
    data: rows, encode: { x: 0, y: [1, 2] }, clip: true, silent: true, z: 1, animation: false,
    renderItem: function (params, api) {
      if (params.dataIndex !== 0) return null;
      const pts = [];
      for (let i = 0; i < rows.length; i++) pts.push(api.coord([rows[i][0], rows[i][2]]));
      for (let i = rows.length - 1; i >= 0; i--) pts.push(api.coord([rows[i][0], rows[i][1]]));
      return { type: 'polygon', shape: { points: pts }, style: { fill: fill, stroke: null } };
    }
  };
}

function lineSeries(g, data, name, color, width, z, extra) {
  return Object.assign({
    type: 'line', name: name, xAxisIndex: 2 * g, yAxisIndex: g, data: data,
    symbol: 'none', showSymbol: false, lineStyle: { color: color, width: width }, itemStyle: { color: color },
    z: z, silent: true, clip: true, smooth: 0.3, smoothMonotone: 'x',
    emphasis: { disabled: true }, animation: false
  }, extra || {});
}

// ---------------- build option ----------------
const grids = [], xAxes = [], yAxes = [], series = [];

const yNames = [
  { text: 'dN/dlogD [cm{s|\u22123}]', gap: 68 },
  { text: 'N{sub|d} [cm{s|\u22123}]', gap: 58 },
  { text: 'R{sub|eff} [{i|\u03bc}m]', gap: 44 }
];
const nameRich = {
  s: { fontFamily: FONT, fontSize: 16, color: '#000', verticalAlign: 'top' },
  sub: { fontFamily: FONT, fontSize: 16, fontStyle: 'italic', color: '#000', verticalAlign: 'bottom' },
  i: { fontFamily: FONT, fontSize: 23, fontStyle: 'italic', color: '#000' }
};

for (let g = 0; g < 12; g++) {
  const row = Math.floor(g / 4), col = g % 4;
  grids.push({ left: COL_LEFT[col], top: ROW_TOP[row], width: PANEL_W, height: ROW_H[row],
    show: true, borderColor: '#000', borderWidth: 1.2, backgroundColor: 'transparent' });

  xAxes.push({
    type: 'log', logBase: 10, gridIndex: g, min: 1, max: 5000, position: 'bottom',
    axisLine: { show: true, onZero: false, lineStyle: { color: '#000', width: 1.2 } },
    axisTick: { show: true, length: 5, customValues: xMajorTicks, lineStyle: { color: '#000', width: 1.1 } },
    axisLabel: { show: row === 2, customValues: xMajorTicks, margin: 7, formatter: powLabel, rich: supRich },
    splitLine: { show: true, lineStyle: GRIDLINE },
    name: row === 2 ? 'Diameter [{i|\u03bc}m]' : '', nameLocation: 'middle', nameGap: 40,
    nameTextStyle: { fontFamily: FONT, fontSize: 23, color: '#000', rich: nameRich }
  });
  xAxes.push({
    type: 'log', logBase: 10, gridIndex: g, min: 1, max: 5000, position: 'bottom',
    axisLine: { show: false },
    axisTick: { show: true, length: 3, customValues: xMinorTicks, lineStyle: { color: '#000', width: 0.9 } },
    axisLabel: { show: false },
    splitLine: { show: true, lineStyle: GRIDLINE }
  });

  const y = {
    type: row === 0 ? 'log' : 'value', gridIndex: g, min: yRanges[g][0], max: yRanges[g][1],
    axisLine: { show: true, onZero: false, lineStyle: { color: '#000', width: 1.2 } },
    axisTick: { show: true, length: 5, customValues: yTicks[g], lineStyle: { color: '#000', width: 1.1 } },
    axisLabel: { show: row > 0 || col === 0, customValues: yTicks[g], margin: 9,
      fontFamily: FONT, fontSize: 23, color: '#000' },
    splitLine: { show: true, lineStyle: GRIDLINE }
  };
  if (row === 0) { y.logBase = 10; y.axisLabel.formatter = powLabel; y.axisLabel.rich = supRich; }
  if (col === 0) {
    y.name = yNames[row].text; y.nameLocation = 'middle'; y.nameRotate = 90; y.nameGap = yNames[row].gap;
    y.nameTextStyle = { fontFamily: FONT, fontSize: 23, color: '#000', rich: nameRich };
  }
  yAxes.push(y);

  const p = panelDefs[g];
  p.bands.forEach(b => series.push(bandSeries(g, b[0], k(b[1]))));
  p.lines.forEach(l => series.push(lineSeries(g, l[0], 'DHARMA', k(l[1]), l[2], 2)));
  series.push(lineSeries(g, p.mean, 'DHARMA Mean', RED, 3.5, 3, row === 0 ? { smooth: 0.2 } : {}));
  const situExtra = row === 0 ? { smooth: false, step: 'end' } : {};
  if (row > 0) {
    situExtra.markLine = {
      silent: true, symbol: ['none', 'none'], label: { show: false }, animation: false,
      lineStyle: { color: BLUE, width: 3, type: [18, 5, 4, 5] },
      data: [{ xAxis: markerDiameter }]
    };
  }
  series.push(lineSeries(g, p.situ, 'In Situ', CYAN, 3.5, 4, situExtra));
}

// text annotations
const graphics = [];
graphics.push({ type: 'text', x: 881.5, y: 52.5, silent: true,
  style: { text: 'CNTL', fill: '#000', fontFamily: 'Liberation Sans', fontWeight: 'bold', fontSize: 57, align: 'center', verticalAlign: 'middle' } });
graphics.push({ type: 'rect', silent: true, shape: { x: 805, y: 76.5, width: 153, height: 3 }, style: { fill: '#000' } });

const tempX = [153, 532.4, 924.6, 1301.7];
temperatures.forEach((t, c) => graphics.push({ type: 'text', x: tempX[c], y: 122.5, silent: true,
  style: { text: t, fill: BLUE, fontFamily: FONT, fontSize: 34, align: 'left', verticalAlign: 'middle' } }));

panelLetters.forEach((t, g) => {
  const row = Math.floor(g / 4), col = g % 4;
  graphics.push({ type: 'text', x: COL_LEFT[col] + 4.5, y: ROW_TOP[row] + 24, silent: true,
    style: { text: t, fill: '#000', fontFamily: FONT, fontSize: 34, align: 'left', verticalAlign: 'middle' } });
});

const nX = [477, 856, 1234.5, 1526];
sampleCounts.forEach((t, c) => graphics.push({ type: 'text', x: nX[c], y: 156, silent: true,
  style: { text: t, fill: '#000', fontFamily: FONT, fontWeight: 'bold', fontSize: 23, align: c === 3 ? 'left' : 'right', verticalAlign: 'middle' } }));

const regX = [383.5, 734, 1107, 1520.5], regY = [269, 192, 194, 193];
regimes.forEach((t, c) => graphics.push({ type: 'text', x: regX[c], y: regY[c] - 15.5, silent: true,
  style: { text: t, fill: BLUE, fontFamily: FONT, fontSize: 26, lineHeight: 31, align: 'left', verticalAlign: 'top' } }));

const rowRich = {
  t: { fontFamily: FONT, fontSize: 35, color: BLUE },
  i: { fontFamily: FONT, fontSize: 35, fontStyle: 'italic', color: BLUE },
  sub: { fontFamily: FONT, fontSize: 25, fontStyle: 'italic', color: BLUE, verticalAlign: 'bottom' }
};
[['{t|DSD}', 25, 288], ['{t|Cumulative }{i|N}{sub|d}', 50, 596], ['{t|Cumulative }{i|R}{sub|eff}', 50, 907]].forEach(r =>
  graphics.push({ type: 'text', x: r[1], y: r[2], rotation: Math.PI / 2, silent: true,
    style: { text: r[0], rich: rowRich, fill: BLUE, fontFamily: FONT, fontSize: 35, align: 'center', verticalAlign: 'middle' } }));

const option = {
  animation: false,
  backgroundColor: 'transparent',
  grid: grids, xAxis: xAxes, yAxis: yAxes, series: series,
  legend: {
    data: [
      { name: 'DHARMA', itemStyle: { color: '#bdbdbd' } },
      { name: 'DHARMA Mean', itemStyle: { color: RED } },
      { name: 'In Situ', itemStyle: { color: CYAN } }
    ],
    icon: 'rect',
    orient: 'vertical', left: 312.6, top: 173.4, itemWidth: 42, itemHeight: 3.5, itemGap: 2,
    padding: [5, 7, 8, 8], backgroundColor: 'rgba(255,255,255,0.85)', borderColor: '#cccccc', borderWidth: 1, borderRadius: 4,
    textStyle: { fontFamily: FONT, fontSize: 21, color: '#000', padding: [0, 0, 0, 10] },
    selectedMode: false, z: 10
  },
  graphic: graphics
};

const chart = echarts.init(document.getElementById('chart'), null, { renderer: 'svg' });
chart.setOption(option);
</script>
</body>
</html>
